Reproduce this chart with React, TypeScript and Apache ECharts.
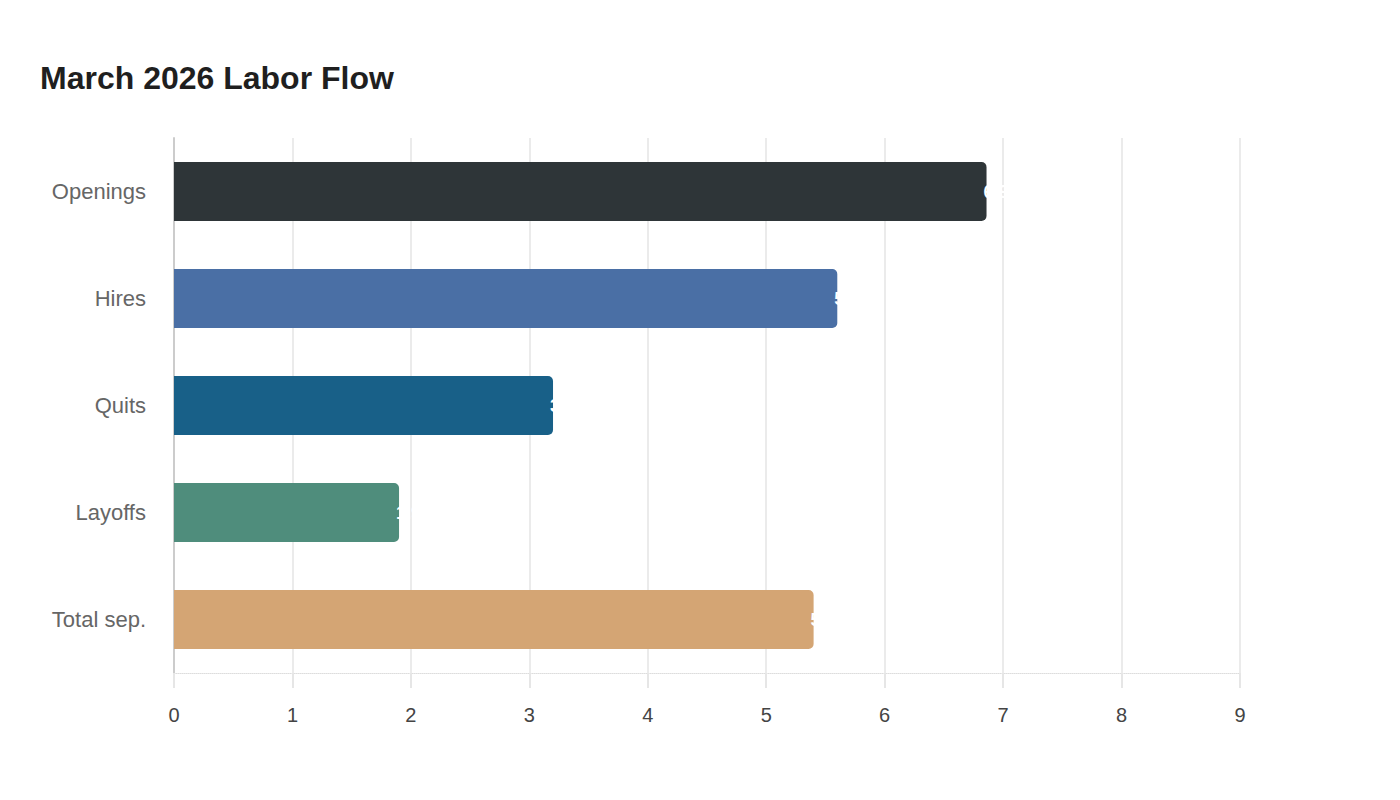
import React, { useEffect, useRef } from "react";
import * as echarts from "echarts";

const categories = ["Openings", "Hires", "Quits", "Layoffs", "Total sep."];
const values = [6.86, 5.6, 3.2, 1.9, 5.4];
const colors = ["#2e3538", "#4a6fa5", "#186088", "#4f8d7c", "#d4a574"];
const title = "March 2026 Labor Flow";
const FONT = "'Liberation Sans', Arial, sans-serif";

export default function App() {
  const ref = useRef<HTMLDivElement>(null);
  useEffect(() => {
    const chart = echarts.init(ref.current!, null, { renderer: "svg" });
    chart.setOption({
      animation: false,
      backgroundColor: "#ffffff",
      title: {
        text: title,
        left: 35,
        top: 57,
        textStyle: { fontFamily: FONT, fontSize: 32, fontWeight: "bold", color: "#1f1f1f" },
      },
      grid: { left: 174, right: 160, top: 138, bottom: 127 },
      xAxis: {
        type: "value",
        min: 0,
        max: 9,
        interval: 1,
        axisLine: { show: true, lineStyle: { color: "#dddddd", type: "dotted" } },
        axisTick: { show: true, length: 15, lineStyle: { color: "#e6e6e6", width: 2 } },
        splitLine: { show: true, lineStyle: { color: "#ebebeb", width: 2 } },
        axisLabel: { color: "#444444", fontSize: 20, margin: 32, fontFamily: FONT },
      },
      yAxis: {
        type: "category",
        data: categories,
        inverse: true,
        axisLine: { show: true, lineStyle: { color: "#cccccc", width: 2 } },
        axisTick: { show: false },
        axisLabel: { color: "#666666", fontSize: 22, margin: 28, fontFamily: FONT },
      },
      series: [
        {
          type: "bar",
          barWidth: "55%",
          data: values.map((v, i) => ({ value: v, itemStyle: { color: colors[i], borderRadius: [0, 5, 5, 0] } })),
          label: {
            show: true,
            position: "right",
            distance: -3,
            color: "#ffffff",
            fontSize: 18,
            fontWeight: "bold",
            fontFamily: FONT,
            formatter: (p: any) => p.value.toFixed(1),
          },
        },
      ],
    });
    return () => chart.dispose();
  }, []);
  return <div ref={ref} style={{ width: 1400, height: 800, margin: -8 }} />;
}
